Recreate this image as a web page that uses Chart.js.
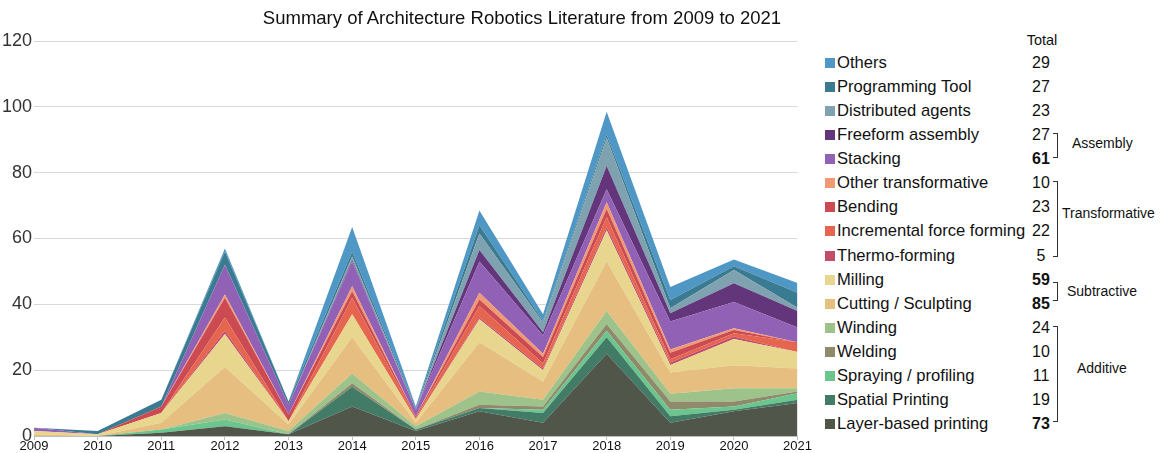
<!DOCTYPE html>
<html>
<head>
<meta charset="utf-8">
<script src="https://cdn.jsdelivr.net/npm/chart.js@4"></script>
<style>
  body { margin: 0; background: #fff; font-family: "Liberation Sans", Arial, sans-serif; }
  #wrap { position: relative; width: 1161px; height: 453px; }
  #chart { position: absolute; left: 0; top: 0; }
  .title { position: absolute; left: 0; top: 8px; width: 1044px; text-align: center; font-size: 18.5px; line-height: 20px; color: #111; }
  .box { position: absolute; width: 10px; height: 10px; }
  .lbl { position: absolute; font-size: 16.6px; line-height: 20px; color: #111; white-space: nowrap; }
  .tot { position: absolute; width: 40px; text-align: center; font-size: 16px; line-height: 20px; color: #111; }
  .grp { position: absolute; font-size: 14px; line-height: 18px; color: #111; white-space: nowrap; }
  .brk { position: absolute; width: 4px; border: 1px solid #333; border-left: none; }
</style>
</head>
<body>
<div id="wrap">
  <canvas id="chart" width="812" height="453"></canvas>
  <div class="title">Summary of Architecture Robotics Literature from 2009 to 2021</div>
</div>
<script>
var years = ["2009", "2010", "2011", "2012", "2013", "2014", "2015", "2016", "2017", "2018", "2019", "2020", "2021"];

// series, bottom of the stack first
var layerBased   = [0, 0, 1, 3, 0.5, 9, 1.5, 7.5, 4, 25, 4, 7.5, 10];
var spatial      = [0, 0, 0, 0, 0, 6, 0.5, 1, 3, 5, 2, 0.5, 1];
var spraying     = [0, 0, 1, 2, 0, 0, 0, 0, 1, 2, 2, 1, 2];
var welding      = [0, 0, 0, 0, 0, 1, 0, 1, 1, 2, 2.5, 1.5, 0.5];
var winding      = [0, 0, 0, 2, 1, 3, 1, 4, 2, 4, 2.3, 4, 1];
var cutting      = [0.5, 0, 2, 14, 2, 11, 1, 15, 5.5, 15, 6.5, 7, 6];
var milling      = [1, 0.5, 3, 10, 1, 7, 1, 7, 3.5, 9.5, 2.3, 8, 5];
var thermo       = [0, 0, 0, 1, 0, 0, 0, 0.5, 0.5, 1, 0.7, 0.7, 0];
var incremental  = [0, 0, 0, 4, 0, 5, 0.5, 3.5, 1.5, 3, 1, 1, 3];
var bending      = [0, 0, 2, 6, 2, 2, 0.5, 2, 2, 2.5, 2, 1, 0];
var otherTrans   = [0, 0, 0, 1, 0, 1.5, 0, 2, 1, 2, 1, 0.5, 0];
var stacking     = [1, 0, 0, 9, 3, 7.5, 2, 9.5, 5.5, 4, 8.5, 8, 4.5];
var freeform     = [0, 0, 0, 0, 0, 0.5, 0, 3.5, 1, 7, 2.5, 5.7, 5];
var distributed  = [0, 0, 0, 0, 0, 1, 0, 5, 3, 8.5, 1.5, 4, 1];
var programming  = [0, 1, 2, 4, 1, 1.5, 0.5, 2.5, 0.5, 1, 2.5, 1.2, 4.5];
var others       = [0, 0, 0, 1, 0, 7.5, 0.5, 4.5, 2, 7, 4, 2, 3];

var names = ["Layer-based printing", "Spatial Printing", "Spraying / profiling", "Welding", "Winding",
  "Cutting / Sculpting", "Milling", "Thermo-forming", "Incremental force forming", "Bending",
  "Other transformative", "Stacking", "Freeform assembly", "Distributed agents", "Programming Tool", "Others"];
var totals = [73, 19, 11, 10, 24, 85, 59, 5, 22, 23, 10, 61, 27, 23, 27, 29];
var boldTotals = ["Layer-based printing", "Cutting / Sculpting", "Milling", "Stacking"];
var colors = ["#50564a", "#427c67", "#6dc58e", "#8f8a6b", "#9dc38a",
  "#e6be80", "#e8d68e", "#c24d6a", "#e5654f", "#cc4a52",
  "#f09a74", "#9061b4", "#63357a", "#7fa2b0", "#3a7b91", "#4f97c4"];
var series = [layerBased, spatial, spraying, welding, winding, cutting, milling, thermo,
  incremental, bending, otherTrans, stacking, freeform, distributed, programming, others];

var datasets = series.map(function (d, i) {
  return {
    label: names[i],
    data: d,
    backgroundColor: colors[i],
    borderColor: colors[i],
    borderWidth: 0,
    pointRadius: 0,
    tension: 0,
    fill: i == 0 ? "origin" : "-1"
  };
});

var font = "'Liberation Sans', Arial, sans-serif";
new Chart(document.getElementById("chart"), {
  type: "line",
  data: { labels: years, datasets: datasets },
  options: {
    responsive: false,
    animation: false,
    layout: { padding: { top: 41, left: 0, right: 0, bottom: 0 } },
    plugins: { legend: { display: false }, tooltip: { enabled: false } },
    scales: {
      x: {
        offset: false,
        grid: { drawOnChartArea: false, tickLength: 4, color: "#bfbfbf" },
        border: { color: "#bfbfbf" },
        ticks: { font: { family: font, size: 13, lineHeight: 1 }, color: "#111", padding: 0, maxRotation: 0, autoSkip: false }
      },
      y: {
        stacked: true,
        min: 0,
        max: 120,
        ticks: { stepSize: 20, font: { family: font, size: 18 }, color: "#333", padding: 2 },
        grid: { color: "#d9d9d9", drawTicks: false },
        border: { display: false }
      }
    }
  }
});

// legend with totals column, top entry first
var wrap = document.getElementById("wrap");
function add(cls, css, text, bold) {
  var el = document.createElement("div");
  el.className = cls;
  el.style.cssText = css;
  if (text !== undefined) el.textContent = text;
  if (bold) el.style.fontWeight = "bold";
  wrap.appendChild(el);
}
add("tot", "left:1022px;top:30px;font-size:14.5px;", "Total");
for (var k = 0; k < names.length; k++) {
  var i = names.length - 1 - k;
  var y = 63 + k * 24.07;
  add("box", "left:825px;top:" + (y - 5) + "px;background:" + colors[i] + ";");
  add("lbl", "left:837px;top:" + (y - 10) + "px;", names[i]);
  add("tot", "left:1021px;top:" + (y - 10) + "px;", String(totals[i]), boldTotals.indexOf(names[i]) >= 0);
}
// group brackets
add("brk", "left:1053px;top:133px;height:23px;");
add("grp", "left:1072px;top:134px;", "Assembly");
add("brk", "left:1053px;top:181px;height:74px;");
add("grp", "left:1062px;top:204px;", "Transformative");
add("brk", "left:1053px;top:282px;height:17px;");
add("grp", "left:1067px;top:282px;", "Subtractive");
add("brk", "left:1053px;top:326px;height:94px;");
add("grp", "left:1077px;top:359px;", "Additive");
</script>
</body>
</html>
